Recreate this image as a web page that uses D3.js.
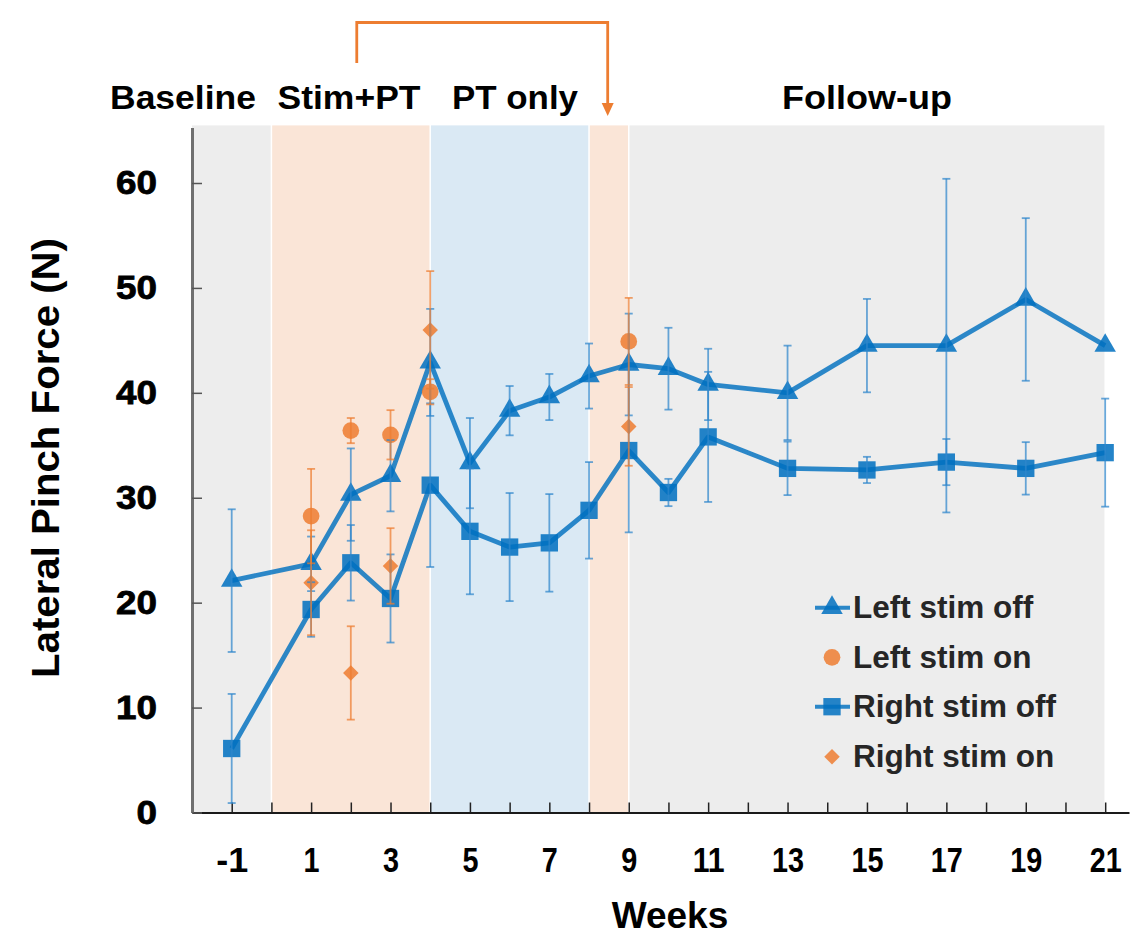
<!DOCTYPE html>
<html>
<head>
<meta charset="utf-8">
<script src="https://cdn.jsdelivr.net/npm/d3@7"></script>
<style>
  html, body { margin: 0; padding: 0; background: #fff; }
  svg { display: block; font-family: "Liberation Sans", Arial, Helvetica, sans-serif; }
</style>
</head>
<body>
<svg id="chart" width="1131" height="936"></svg>
<script>
// ---------------- DATA ----------------
const phaseNames  = ["Baseline", "Stim+PT", "PT only", "Stim", "Follow-up"];
const phaseStart  = [-2, 0, 4, 8, 9];
const phaseEnd    = [0, 4, 8, 9, 21];
const phaseKind   = ["gray", "stim", "pt", "stim", "gray"];
const headerLabels = ["Baseline", "Stim+PT", "PT only", "Follow-up"];

const xTickWeeks = [-1,0,1,2,3,4,5,6,7,8,9,10,11,12,13,14,15,16,17,18,19,20,21];
const yTickValues = [0, 10, 20, 30, 40, 50, 60];

const offWeeks        = [-1, 1, 2, 3, 4, 5, 6, 7, 8, 9, 10, 11, 13, 15, 17, 19, 21];
const leftOffMean     = [22.1, 23.7, 30.3, 32.1, 42.9, 33.3, 38.3, 39.6, 41.6, 42.7, 42.3, 40.8, 40.0, 44.5, 44.5, 48.9, 44.5];
const leftOffErr      = [6.8, 2.6, 4.4, 3.4, 5.1, 4.3, 2.35, 2.2, 3.1, 4.85, 3.9, 3.4, 4.5, 4.45, 15.9, 7.75, 0];
const rightOffMean    = [6.1, 19.35, 23.8, 20.4, 31.2, 26.8, 25.3, 25.7, 28.8, 34.5, 30.5, 35.8, 32.8, 32.65, 33.4, 32.8, 34.3];
const rightOffErr     = [5.2, 2.6, 3.6, 4.2, 7.8, 6.0, 5.15, 4.65, 4.6, 7.8, 1.3, 6.2, 2.55, 1.25, 2.2, 2.5, 5.15];

const onWeeks         = [1, 2, 3, 4, 9];
const leftOnMean      = [28.25, 36.4, 36.0, 40.1, 44.9];
const leftOnErr       = [4.5, 1.2, 2.35, 1.2, 4.15];
const rightOnMean     = [21.9, 13.3, 23.5, 46.0, 36.8];
const rightOnErr      = [5.0, 4.45, 3.6, 5.6, 3.75];

const legendLabels = ["Left stim off", "Left stim on", "Right stim off", "Right stim on"];

// ---------------- LAYOUT ----------------
const BLUE = "#0070C0", ORANGE = "#ED7D31";
const bandFill = { gray: "#EDEDED", stim: "#FAE5D7", pt: "#DAE9F4" };
const svg = d3.select("#chart");

const x = d3.scaleLinear().domain([-2, 21.6]).range([192, 1129]);
const pxPerN = (812.5 - 183) / 60;
const yTopVal = 65.3;
const y = d3.scaleLinear().domain([0, yTopVal]).range([812.5, 812.5 - yTopVal * pxPerN]);

// bands
const phases = phaseNames.map((n, i) => ({ name: n, s: phaseStart[i], e: phaseEnd[i], k: phaseKind[i] }));
svg.append("g").selectAll("rect").data(phases).join("rect")
  .attr("x", d => x(d.s) + (d.s === -2 ? 0 : 0.75))
  .attr("width", d => x(d.e) - x(d.s) - (d.s === -2 ? 0.75 : 1.5))
  .attr("y", y(yTopVal) - 2)
  .attr("height", y(0) - y(yTopVal) + 2)
  .attr("fill", d => bandFill[d.k]);

// header labels
const headerX = [183, 349, 515, 867];
const headerW = [146, 143, 126, 170];
svg.append("g").selectAll("text").data(headerLabels).join("text")
  .attr("x", (d, i) => headerX[i])
  .attr("y", 109)
  .attr("text-anchor", "middle")
  .attr("font-size", 33)
  .attr("font-weight", "bold")
  .attr("fill", "#000")
  .attr("textLength", (d, i) => headerW[i])
  .attr("lengthAdjust", "spacingAndGlyphs")
  .text(d => d);

// bracket arrow
const bx1 = x(2.15), bx2 = x(8.47);
svg.append("path")
  .attr("d", `M${bx1},63 V22.5 H${bx2} V104`)
  .attr("fill", "none").attr("stroke", ORANGE).attr("stroke-width", 2.8);
svg.append("path")
  .attr("d", `M${bx2 - 6},103 L${bx2 + 6},103 L${bx2},116 Z`)
  .attr("fill", ORANGE);

// axes
const xAxis = d3.axisBottom(x).tickValues(xTickWeeks).tickSize(-10).tickSizeOuter(0).tickPadding(35)
  .tickFormat(d => (Math.abs(d) % 2 === 1) ? d : "");
const gx = svg.append("g").attr("transform", `translate(0,${y(0)})`).call(xAxis);
gx.select(".domain").attr("stroke", "#1a1a1a").attr("stroke-width", 2);
gx.selectAll(".tick line").attr("stroke", "#222").attr("stroke-width", 1.5);
gx.selectAll(".tick text").attr("font-size", 35).attr("font-weight", "bold").attr("fill", "#000")
  .attr("font-family", "Liberation Sans, Arial, sans-serif")
  .attr("textLength", d => String(d).length * 16)
  .attr("lengthAdjust", "spacingAndGlyphs");

const yAxis = d3.axisLeft(y).tickValues(yTickValues).tickSize(-10).tickSizeOuter(0).tickPadding(35);
const gy = svg.append("g").attr("transform", `translate(${x(-2)},0)`).call(yAxis);
gy.select(".domain").attr("stroke", "#707070").attr("stroke-width", 3);
gy.selectAll(".tick line").attr("stroke", "#555").attr("stroke-width", 1.5);
gy.selectAll(".tick text").attr("font-size", 33).attr("font-weight", "bold").attr("fill", "#000")
  .attr("stroke", "#000").attr("stroke-width", 0.8)
  .attr("font-family", "Liberation Sans, Arial, sans-serif")
  .attr("textLength", d => String(d).length * 20.5)
  .attr("lengthAdjust", "spacingAndGlyphs");

// axis titles
svg.append("text")
  .attr("transform", "translate(59,458) rotate(-90)")
  .attr("text-anchor", "middle")
  .attr("font-size", 38).attr("font-weight", "bold").attr("fill", "#000")
  .attr("textLength", 440).attr("lengthAdjust", "spacingAndGlyphs")
  .text("Lateral Pinch Force (N)");
svg.append("text")
  .attr("x", 670).attr("y", 928)
  .attr("text-anchor", "middle")
  .attr("font-size", 37).attr("font-weight", "bold").attr("fill", "#000")
  .text("Weeks");

// series construction
const mk = (weeks, m, e) => weeks.map((w, i) => ({ w, v: m[i], e: e[i] }));
const leftOff = mk(offWeeks, leftOffMean, leftOffErr);
const rightOff = mk(offWeeks, rightOffMean, rightOffErr);
const leftOn = mk(onWeeks, leftOnMean, leftOnErr);
const rightOn = mk(onWeeks, rightOnMean, rightOnErr);

const line = d3.line().x(d => x(d.w)).y(d => y(d.v));
const plot = svg.append("g");

[rightOff, leftOff].forEach(s => {
  plot.append("path").datum(s).attr("d", line)
    .attr("fill", "none").attr("stroke", BLUE).attr("stroke-width", 4.8)
    .attr("stroke-opacity", 0.82).attr("stroke-linejoin", "round");
});

const tri = d3.symbol(d3.symbolTriangle, 200);
const sq = d3.symbol(d3.symbolSquare, 300);
const circ = d3.symbol(d3.symbolCircle, 220);
const dia = d3.symbol(d3.symbolSquare, 120);

function markers(data, sym, color, rot) {
  plot.append("g").selectAll("path").data(data).join("path")
    .attr("d", sym)
    .attr("transform", d => `translate(${x(d.w)},${y(d.v)})` + (rot ? " rotate(45)" : ""))
    .attr("fill", color).attr("fill-opacity", 0.86);
}
markers(leftOff, tri, BLUE, false);
markers(rightOff, sq, BLUE, false);
markers(leftOn, circ, ORANGE, false);
markers(rightOn, dia, ORANGE, true);

function errorBars(data, color) {
  const g = plot.append("g").attr("stroke", color).attr("stroke-width", 1.8).attr("stroke-opacity", 0.72);
  data.filter(d => d.e > 0).forEach(d => {
    const cx = x(d.w);
    g.append("line").attr("x1", cx).attr("x2", cx).attr("y1", y(d.v - d.e)).attr("y2", y(d.v + d.e));
    g.append("line").attr("x1", cx - 4).attr("x2", cx + 4).attr("y1", y(d.v - d.e)).attr("y2", y(d.v - d.e));
    g.append("line").attr("x1", cx - 4).attr("x2", cx + 4).attr("y1", y(d.v + d.e)).attr("y2", y(d.v + d.e));
  });
}
errorBars(leftOff, "#2F86CC");
errorBars(rightOff, "#2F86CC");
errorBars(leftOn, ORANGE);
errorBars(rightOn, ORANGE);

// legend
const legRowY = [607.7, 657.3, 706.7, 756.7];
const legSyms = [tri, circ, sq, dia];
const legColors = [BLUE, ORANGE, BLUE, ORANGE];
const legLine = [true, false, true, false];
const leg = svg.append("g");
legendLabels.forEach((lab, i) => {
  const cy = legRowY[i];
  if (legLine[i]) {
    leg.append("line").attr("x1", 815).attr("x2", 850).attr("y1", cy).attr("y2", cy)
      .attr("stroke", BLUE).attr("stroke-width", 4).attr("stroke-opacity", 0.82);
  }
  leg.append("path").attr("d", legSyms[i])
    .attr("transform", `translate(832,${cy})` + (i === 3 ? " rotate(45)" : ""))
    .attr("fill", legColors[i]).attr("fill-opacity", 0.85);
  leg.append("text").attr("x", 853).attr("y", cy + 10.5)
    .attr("font-size", 31.5).attr("font-weight", "bold").attr("fill", "#262626")
    .text(lab);
});
</script>
</body>
</html>
